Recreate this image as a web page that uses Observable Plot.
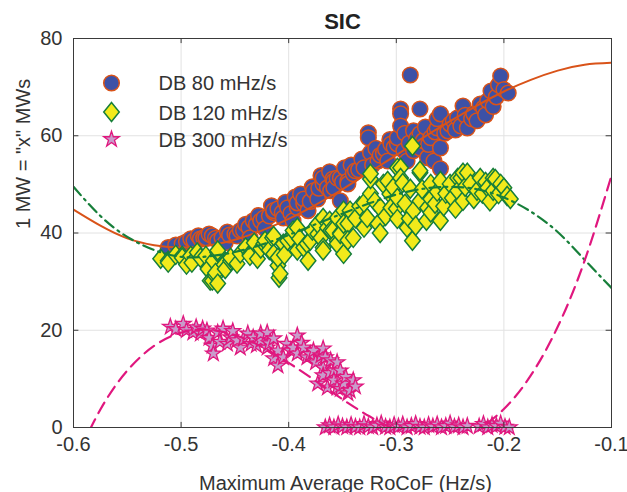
<!DOCTYPE html>
<html><head><meta charset="utf-8">
<script src="https://cdn.jsdelivr.net/npm/d3@7"></script>
<script src="https://cdn.jsdelivr.net/npm/@observablehq/plot@0.6"></script>
<style>html,body{margin:0;padding:0;background:#fff;}</style>
</head><body><div id="chart"></div>
<script>
const title = "SIC";
const xLabel = "Maximum Average RoCoF (Hz/s)";
const yLabel = '1 MW = "x" MWs';
const seriesNames = ["DB 80 mHz/s", "DB 120 mHz/s", "DB 300 mHz/s"];
const xTicks = [-0.6, -0.5, -0.4, -0.3, -0.2, -0.1];
const yTicks = [0, 20, 40, 60, 80];

const db80 = [[-0.512,37.0],[-0.505,37.5],[-0.499,37.8],[-0.495,38.2],[-0.491,38.8],[-0.488,38.4],[-0.484,39.4],[-0.482,38.8],[-0.479,39.0],[-0.477,39.0],[-0.474,39.8],[-0.471,39.4],[-0.468,38.9],[-0.466,38.4],[-0.462,39.0],[-0.459,38.0],[-0.457,40.2],[-0.455,39.6],[-0.450,39.8],[-0.448,39.4],[-0.445,40.5],[-0.442,40.5],[-0.440,41.8],[-0.437,41.1],[-0.436,39.0],[-0.433,42.5],[-0.430,41.8],[-0.428,43.6],[-0.426,42.5],[-0.423,43.1],[-0.422,40.9],[-0.418,43.5],[-0.416,45.6],[-0.414,44.2],[-0.414,44.6],[-0.410,45.0],[-0.406,44.2],[-0.405,43.1],[-0.403,46.3],[-0.401,45.2],[-0.398,44.0],[-0.396,42.5],[-0.394,47.4],[-0.392,45.2],[-0.392,46.2],[-0.389,48.0],[-0.386,46.0],[-0.386,47.0],[-0.382,44.6],[-0.380,46.5],[-0.378,49.5],[-0.377,48.7],[-0.373,47.0],[-0.372,49.2],[-0.370,51.8],[-0.368,50.1],[-0.368,51.3],[-0.364,49.3],[-0.362,52.6],[-0.361,48.7],[-0.359,51.1],[-0.358,50.7],[-0.358,49.3],[-0.355,51.3],[-0.352,46.6],[-0.352,51.3],[-0.350,50.5],[-0.348,53.4],[-0.345,50.7],[-0.345,50.1],[-0.342,54.0],[-0.340,52.2],[-0.338,52.8],[-0.335,53.0],[-0.332,55.2],[-0.330,53.4],[-0.326,60.6],[-0.326,59.6],[-0.324,56.5],[-0.322,54.0],[-0.319,57.4],[-0.317,54.8],[-0.315,56.0],[-0.312,56.3],[-0.310,57.2],[-0.308,54.8],[-0.306,59.2],[-0.305,58.3],[-0.302,57.6],[-0.299,58.3],[-0.299,59.6],[-0.296,65.5],[-0.296,64.5],[-0.296,62.0],[-0.293,56.9],[-0.292,60.5],[-0.290,54.8],[-0.288,58.5],[-0.287,72.5],[-0.284,56.9],[-0.284,61.0],[-0.281,59.5],[-0.278,57.5],[-0.278,60.4],[-0.278,65.5],[-0.275,59.0],[-0.273,61.8],[-0.271,55.5],[-0.270,58.2],[-0.268,59.6],[-0.265,54.8],[-0.264,60.8],[-0.262,61.6],[-0.262,63.5],[-0.259,53.2],[-0.259,57.5],[-0.259,64.5],[-0.255,60.5],[-0.252,61.0],[-0.250,62.4],[-0.247,63.1],[-0.245,61.2],[-0.243,63.7],[-0.240,62.0],[-0.238,66.1],[-0.236,64.2],[-0.234,61.6],[-0.230,63.5],[-0.228,64.5],[-0.225,63.1],[-0.222,66.5],[-0.219,65.7],[-0.217,64.3],[-0.215,67.2],[-0.212,69.2],[-0.210,66.0],[-0.207,68.0],[-0.205,70.5],[-0.203,72.3],[-0.200,69.5],[-0.196,68.8]];

const db120 = [[-0.519,34.7],[-0.512,34.3],[-0.512,33.9],[-0.505,35.5],[-0.499,35.3],[-0.499,34.9],[-0.495,33.5],[-0.491,35.3],[-0.490,33.9],[-0.485,36.0],[-0.482,34.9],[-0.477,35.3],[-0.475,32.6],[-0.473,30.2],[-0.471,30.2],[-0.470,34.3],[-0.468,31.2],[-0.468,31.8],[-0.466,29.6],[-0.466,36.0],[-0.466,36.4],[-0.460,33.5],[-0.459,32.6],[-0.454,34.3],[-0.454,34.9],[-0.448,33.7],[-0.445,35.8],[-0.440,37.0],[-0.436,35.7],[-0.436,35.3],[-0.432,38.0],[-0.429,34.7],[-0.426,36.8],[-0.423,37.8],[-0.422,38.4],[-0.418,36.5],[-0.415,39.0],[-0.414,35.7],[-0.414,39.4],[-0.410,33.3],[-0.410,34.9],[-0.409,30.8],[-0.408,31.6],[-0.405,37.8],[-0.404,35.5],[-0.401,38.4],[-0.398,39.0],[-0.396,40.5],[-0.392,41.1],[-0.392,36.4],[-0.390,38.8],[-0.386,37.0],[-0.383,37.8],[-0.382,34.3],[-0.380,38.4],[-0.378,40.5],[-0.373,39.8],[-0.373,41.9],[-0.370,39.0],[-0.368,37.0],[-0.368,43.1],[-0.368,36.4],[-0.364,41.1],[-0.362,42.5],[-0.361,40.5],[-0.359,40.5],[-0.355,38.4],[-0.355,43.1],[-0.355,37.8],[-0.352,40.0],[-0.352,39.8],[-0.349,44.6],[-0.349,41.9],[-0.349,35.7],[-0.345,41.9],[-0.345,38.5],[-0.343,44.6],[-0.340,39.0],[-0.338,43.0],[-0.334,45.5],[-0.330,41.1],[-0.330,46.2],[-0.327,43.1],[-0.324,48.1],[-0.324,51.1],[-0.324,52.2],[-0.320,46.5],[-0.317,41.9],[-0.315,45.2],[-0.315,40.0],[-0.312,50.1],[-0.310,43.5],[-0.308,50.7],[-0.306,48.0],[-0.305,45.2],[-0.303,49.3],[-0.300,45.0],[-0.299,42.9],[-0.299,47.2],[-0.299,53.4],[-0.296,53.4],[-0.296,51.3],[-0.294,50.3],[-0.292,46.0],[-0.290,41.1],[-0.288,43.0],[-0.287,49.1],[-0.285,38.4],[-0.285,57.9],[-0.284,44.6],[-0.282,41.5],[-0.278,52.4],[-0.278,46.6],[-0.278,52.8],[-0.276,49.0],[-0.272,42.5],[-0.271,45.2],[-0.268,50.1],[-0.268,47.0],[-0.268,44.2],[-0.264,46.0],[-0.262,48.5],[-0.259,50.7],[-0.259,42.5],[-0.256,45.5],[-0.254,48.1],[-0.250,50.1],[-0.248,47.2],[-0.245,45.0],[-0.243,51.3],[-0.243,48.7],[-0.240,51.3],[-0.238,52.4],[-0.238,46.6],[-0.236,49.5],[-0.234,52.4],[-0.231,50.1],[-0.228,47.0],[-0.225,48.7],[-0.222,51.3],[-0.220,48.1],[-0.217,50.5],[-0.215,49.3],[-0.213,46.5],[-0.210,51.3],[-0.210,48.7],[-0.208,51.1],[-0.205,48.0],[-0.203,50.1],[-0.200,49.3],[-0.197,47.6],[-0.194,47.0]];

const db300 = [[-0.510,20.7],[-0.505,20.2],[-0.498,21.3],[-0.495,20.0],[-0.489,19.5],[-0.486,20.6],[-0.482,19.3],[-0.480,20.3],[-0.476,19.9],[-0.474,18.4],[-0.471,16.8],[-0.470,15.2],[-0.466,19.5],[-0.464,17.6],[-0.461,20.3],[-0.457,17.2],[-0.454,18.5],[-0.452,19.8],[-0.448,17.9],[-0.445,16.4],[-0.442,18.2],[-0.438,19.3],[-0.435,17.2],[-0.433,18.5],[-0.430,16.9],[-0.426,17.9],[-0.426,19.3],[-0.420,19.5],[-0.420,16.4],[-0.418,17.3],[-0.414,18.3],[-0.414,14.2],[-0.410,15.8],[-0.410,12.7],[-0.405,14.4],[-0.402,17.2],[-0.398,15.8],[-0.396,16.4],[-0.392,18.9],[-0.392,15.2],[-0.388,17.4],[-0.386,16.4],[-0.383,14.4],[-0.380,15.1],[-0.377,15.8],[-0.375,13.4],[-0.373,9.0],[-0.370,14.8],[-0.368,16.2],[-0.368,12.3],[-0.368,10.7],[-0.366,14.4],[-0.364,8.2],[-0.362,11.2],[-0.361,13.8],[-0.358,11.7],[-0.358,9.7],[-0.355,13.4],[-0.355,8.2],[-0.352,11.7],[-0.352,7.9],[-0.349,9.0],[-0.347,10.4],[-0.345,7.0],[-0.343,7.6],[-0.340,9.7],[-0.338,8.4],
[-0.366,0],[-0.362,0.4],[-0.358,0],[-0.354,0.6],[-0.350,0.2],[-0.346,0],[-0.342,0.5],[-0.338,0.1],[-0.334,0],[-0.330,0.7],[-0.326,0.2],[-0.322,0],[-0.318,0.4],[-0.314,0.8],[-0.310,0.1],[-0.306,0],[-0.302,0.5],[-0.298,0.2],[-0.294,0.6],[-0.290,0],[-0.286,0.3],[-0.282,0.7],[-0.278,0.1],[-0.274,0],[-0.270,0.5],[-0.266,0.2],[-0.262,0.6],[-0.258,0],[-0.254,0.3],[-0.250,0.8],[-0.246,0.1],[-0.242,0.4],[-0.238,0],[-0.234,0.3],[-0.223,0.2],[-0.219,0.7],[-0.215,0],[-0.211,0.5],[-0.207,0.3],[-0.203,0.8],[-0.199,0.1],[-0.195,0]];

const fitX = [-0.6,-0.575,-0.55,-0.525,-0.5,-0.475,-0.45,-0.425,-0.4,-0.375,-0.35,-0.325,-0.3,-0.275,-0.25,-0.225,-0.2,-0.175,-0.15,-0.125,-0.1];
const fit80 = [44.8,41.5,38.9,37.5,37.0,37.4,38.6,40.5,42.9,45.8,49.0,52.5,56.0,59.6,63.0,66.2,69.1,71.5,73.4,74.6,75.0];
const fit120 = [49.5,43.5,39.2,36.5,35.1,35.2,36.1,37.6,39.6,41.8,44.0,46.1,47.9,49.1,49.5,49.0,47.3,44.4,40.2,34.5,28.7];
const fit300 = [-7.6,3.7,11.7,16.8,19.5,20.1,19.0,16.6,13.3,9.6,5.8,2.3,-0.5,-2.1,-2.2,-0.4,3.8,10.7,20.7,34.3,51.8];

const C = {
  blueFill: "#3D51A6", orange: "#D95319",
  yellow: "#F2EA1B", green: "#177F3A",
  starFill: "#C99BCB", pink: "#E0177E",
  grid: "#e2e2e2", axis: "#3a3a3a", text: "#333333"
};

const diamondSymbol = {
  draw(ctx, size) {
    const r = Math.sqrt(size / Math.PI);
    const h = r * 1.25, w = r * 1.02;
    ctx.moveTo(0, -h); ctx.lineTo(w, 0); ctx.lineTo(0, h); ctx.lineTo(-w, 0); ctx.closePath();
  }
};

const fitRows = (ys) => fitX.map((x, i) => ({x, y: ys[i]}));
const P = (arr) => arr.map(([x, y]) => ({x, y}));
const FS = 20;

const chart = Plot.plot({
  width: 627, height: 492,
  marginTop: 38, marginLeft: 73, marginRight: 16, marginBottom: 65,
  x: {domain: [-0.6, -0.1]},
  y: {domain: [0, 80]},
  style: {fontFamily: "'Liberation Sans', Arial, Helvetica, sans-serif", fontSize: FS + "px", color: C.text, background: "#fff"},
  marks: [
    Plot.gridX(xTicks, {stroke: C.grid, strokeOpacity: 1}),
    Plot.gridY(yTicks, {stroke: C.grid, strokeOpacity: 1}),
    Plot.dot(P(db80), {x: "x", y: "y", r: 7.8, symbol: "circle", fill: C.blueFill, stroke: C.orange, strokeWidth: 1.5}),
    Plot.line(fitRows(fit80), {x: "x", y: "y", stroke: C.orange, strokeWidth: 2, curve: "natural", clip: true}),
    Plot.dot(P(db120), {x: "x", y: "y", r: 7.6, symbol: diamondSymbol, fill: C.yellow, stroke: C.green, strokeWidth: 1.5}),
    Plot.line(fitRows(fit120), {x: "x", y: "y", stroke: C.green, strokeWidth: 2.2, strokeDasharray: "11,5,2,5", curve: "natural", clip: true}),
    Plot.dot(P(db300), {x: "x", y: "y", r: 4.9, symbol: "star", fill: C.starFill, stroke: C.pink, strokeWidth: 1.3}),
    Plot.line(fitRows(fit300), {x: "x", y: "y", stroke: C.pink, strokeWidth: 2.2, strokeDasharray: "12,7", curve: "natural", clip: true}),
    Plot.frame({stroke: C.axis, strokeWidth: 1}),
    Plot.ruleX(xTicks, {x: d => d, y1: 0, y2: 1.05, stroke: C.axis}),
    Plot.ruleX(xTicks, {x: d => d, y1: 80, y2: 78.95, stroke: C.axis}),
    Plot.ruleY(yTicks, {y: d => d, x1: -0.6, x2: -0.595, stroke: C.axis}),
    Plot.ruleY(yTicks, {y: d => d, x1: -0.1, x2: -0.105, stroke: C.axis}),
    Plot.axisX(xTicks, {tickSize: 0, tickPadding: 9, tickFormat: d => d.toFixed(1), label: null, fontSize: FS, fill: C.text}),
    Plot.axisY(yTicks, {tickSize: 0, tickPadding: 11, label: null, fontSize: FS, fill: C.text}),
    Plot.text([xLabel], {text: d => d, frameAnchor: "bottom", dx: 3, dy: 62, lineAnchor: "bottom", fontSize: FS, fill: C.text}),
    Plot.text([yLabel], {text: d => d, frameAnchor: "left", dx: -44, dy: -4, rotate: -90, lineAnchor: "bottom", fontSize: FS, fill: C.text}),
    Plot.text([title], {text: d => d, frameAnchor: "top", dy: -10, lineAnchor: "bottom", fontSize: 22, fontWeight: "bold", fill: "#222"}),
    Plot.dot([0], {frameAnchor: "top-left", dx: 38, dy: 44.5, r: 7.8, symbol: "circle", fill: C.blueFill, stroke: C.orange, strokeWidth: 1.5}),
    Plot.dot([0], {frameAnchor: "top-left", dx: 38, dy: 73.5, r: 7.6, symbol: diamondSymbol, fill: C.yellow, stroke: C.green, strokeWidth: 1.5}),
    Plot.dot([0], {frameAnchor: "top-left", dx: 38, dy: 100.8, r: 4.9, symbol: "star", fill: C.starFill, stroke: C.pink, strokeWidth: 1.3}),
    Plot.text([seriesNames[0]], {text: d => d, frameAnchor: "top-left", dx: 85, dy: 45.5, textAnchor: "start", lineAnchor: "middle", fontSize: FS, fill: C.text}),
    Plot.text([seriesNames[1]], {text: d => d, frameAnchor: "top-left", dx: 85, dy: 75.5, textAnchor: "start", lineAnchor: "middle", fontSize: FS, fill: C.text}),
    Plot.text([seriesNames[2]], {text: d => d, frameAnchor: "top-left", dx: 85, dy: 102.5, textAnchor: "start", lineAnchor: "middle", fontSize: FS, fill: C.text})
  ]
});
document.getElementById("chart").appendChild(chart);
</script>
</body></html>
